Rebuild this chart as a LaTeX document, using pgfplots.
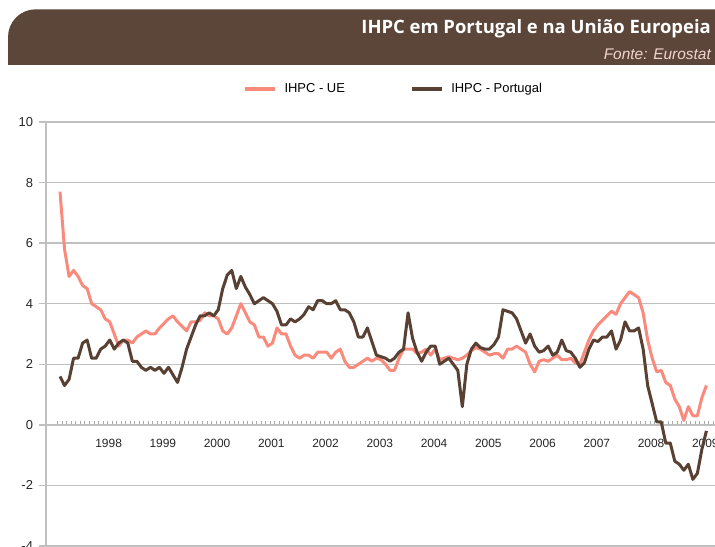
\documentclass[border=0pt]{standalone}
\usepackage{pgfplots}
\pgfplotsset{compat=1.18}
\usepackage{pgfplotstable}
\usepackage{fontspec}
\setmainfont{Liberation Sans}
\newfontfamily\titlefont{Open Sans}
\definecolor{hdr}{RGB}{92,70,58}
\definecolor{eu}{RGB}{249,138,124}
\definecolor{pt}{RGB}{88,64,50}
\definecolor{gridc}{RGB}{192,192,192}
\definecolor{fonte}{RGB}{242,212,206}
\definecolor{tickc}{RGB}{170,170,170}

\pgfplotstableread{
x y
0 7.7
1 5.8
2 4.9
3 5.1
4 4.9
5 4.6
6 4.5
7 4.0
8 3.9
9 3.8
10 3.5
11 3.4
12 3.0
13 2.6
14 2.8
15 2.8
16 2.7
17 2.9
18 3.0
19 3.1
20 3.0
21 3.0
22 3.2
23 3.35
24 3.5
25 3.6
26 3.4
27 3.25
28 3.1
29 3.4
30 3.4
31 3.45
32 3.7
33 3.6
34 3.6
35 3.5
36 3.1
37 3.0
38 3.2
39 3.6
40 4.0
41 3.7
42 3.4
43 3.3
44 2.9
45 2.9
46 2.6
47 2.7
48 3.2
49 3.0
50 3.0
51 2.6
52 2.3
53 2.2
54 2.3
55 2.3
56 2.2
57 2.4
58 2.4
59 2.4
60 2.2
61 2.4
62 2.5
63 2.1
64 1.9
65 1.9
66 2.0
67 2.1
68 2.2
69 2.1
70 2.2
71 2.15
72 2.0
73 1.8
74 1.8
75 2.2
76 2.5
77 2.5
78 2.5
79 2.35
80 2.4
81 2.5
82 2.3
83 2.5
84 2.15
85 2.2
86 2.25
87 2.2
88 2.15
89 2.2
90 2.3
91 2.45
92 2.55
93 2.5
94 2.4
95 2.3
96 2.35
97 2.35
98 2.2
99 2.5
100 2.5
101 2.6
102 2.5
103 2.4
104 2.0
105 1.75
106 2.1
107 2.15
108 2.1
109 2.2
110 2.3
111 2.15
112 2.15
113 2.2
114 2.05
115 2.0
116 2.4
117 2.8
118 3.1
119 3.3
120 3.45
121 3.6
122 3.75
123 3.65
124 4.0
125 4.2
126 4.4
127 4.3
128 4.2
129 3.7
130 2.8
131 2.2
132 1.75
133 1.8
134 1.4
135 1.3
136 0.85
137 0.6
138 0.15
139 0.6
140 0.3
141 0.3
142 0.9
143 1.3
}\eudata

\pgfplotstableread{
x y
0 1.6
1 1.3
2 1.5
3 2.2
4 2.2
5 2.7
6 2.8
7 2.2
8 2.2
9 2.5
10 2.6
11 2.8
12 2.5
13 2.7
14 2.8
15 2.7
16 2.1
17 2.1
18 1.9
19 1.8
20 1.9
21 1.8
22 1.9
23 1.7
24 1.9
25 1.65
26 1.4
27 1.9
28 2.5
29 2.9
30 3.3
31 3.6
32 3.6
33 3.7
34 3.6
35 3.8
36 4.5
37 4.95
38 5.1
39 4.5
40 4.9
41 4.55
42 4.3
43 4.0
44 4.1
45 4.2
46 4.1
47 4.0
48 3.75
49 3.3
50 3.3
51 3.5
52 3.4
53 3.5
54 3.65
55 3.9
56 3.8
57 4.1
58 4.1
59 4.0
60 4.0
61 4.1
62 3.8
63 3.8
64 3.7
65 3.4
66 2.9
67 2.9
68 3.2
69 2.75
70 2.3
71 2.25
72 2.2
73 2.1
74 2.2
75 2.4
76 2.5
77 3.7
78 2.85
79 2.4
80 2.1
81 2.4
82 2.6
83 2.6
84 2.0
85 2.1
86 2.2
87 2.0
88 1.8
89 0.6
90 2.0
91 2.5
92 2.7
93 2.55
94 2.5
95 2.5
96 2.65
97 2.9
98 3.8
99 3.75
100 3.7
101 3.5
102 3.1
103 2.7
104 3.0
105 2.6
106 2.4
107 2.45
108 2.6
109 2.3
110 2.4
111 2.8
112 2.45
113 2.4
114 2.2
115 1.9
116 2.05
117 2.5
118 2.8
119 2.75
120 2.9
121 2.9
122 3.1
123 2.5
124 2.8
125 3.4
126 3.1
127 3.1
128 3.2
129 2.5
130 1.3
131 0.7
132 0.1
133 0.1
134 -0.6
135 -0.6
136 -1.2
137 -1.3
138 -1.5
139 -1.3
140 -1.8
141 -1.6
142 -0.8
143 -0.2
}\ptdata

\begin{document}
\begin{tikzpicture}[x=1bp,y=1bp]
\path[use as bounding box] (0,0) rectangle (715,547);
\fill[hdr] (715,482) -- (8,482) -- (8,510) arc[start angle=180,end angle=90,radius=27.7] -- (715,537.7) -- cycle;
\node[anchor=base east, inner sep=0pt, text=white, font=\titlefont\bfseries\fontsize{18.5}{20}\selectfont] at (711,513) {IHPC em Portugal e na União Europeia};
\node[anchor=base east, inner sep=0pt, text=fonte, font=\itshape\fontsize{15.5}{17}\selectfont] at (711,487.7) {Fonte: Eurostat};
\begin{axis}[
  scale only axis, width=669bp, height=424bp,
  at={(46bp,1bp)}, anchor=south west,
  xmin=-3.1, xmax=144.9, ymin=-4, ymax=10,
  axis y line=left, axis x line=middle,
  axis line style={-, draw=gridc, line width=1.5bp},
  hide obscured x ticks=false, hide obscured y ticks=false,
  ytick={-4,-2,0,2,4,6,8,10},
  ymajorgrids, grid style={draw=gridc, line width=1.3bp},
  tick align=center,
  major tick length=7bp,
  ytick style={draw=gridc, line width=1.3bp, xshift=-3.5bp},
  xtick={10.75,22.75,...,142.75},
  xticklabels={1998,1999,2000,2001,2002,2003,2004,2005,2006,2007,2008,2009},
  xtick style={draw=none},
  minor xtick={-0.5,0.5,...,144.5},
  minor tick length=4bp,
  minor x tick style={draw=tickc, line width=0.8bp, yshift=2bp},
  tick label style={text=black!85},
  /pgf/number format/assume math mode=true,
  yticklabel style={anchor=east, xshift=-6bp, font=\fontsize{13}{15}\selectfont},
  xticklabel style={anchor=north, yshift=-7bp, font=\fontsize{12}{14}\selectfont},
  legend columns=2,
  legend cell align=left,
  legend style={draw=none, fill=none, at={(0.2945,1.0778)}, anchor=west,
    inner sep=0pt, font=\fontsize{13}{15}\selectfont,
    nodes={inner sep=0pt},
    /tikz/every odd column/.append style={column sep=7bp},
    /tikz/every even column/.append style={column sep=65bp}},
  legend image code/.code={\draw[#1, line width=4.3bp] (0bp,0bp) -- (30bp,0bp);},
]
\addplot[eu, line width=3bp, line join=round] table[x=x,y=y] {\eudata};
\addlegendentry{IHPC - UE}
\addplot[pt, line width=3bp, line join=round] table[x=x,y=y] {\ptdata};
\addlegendentry{IHPC - Portugal}
\end{axis}
\end{tikzpicture}
\end{document}
